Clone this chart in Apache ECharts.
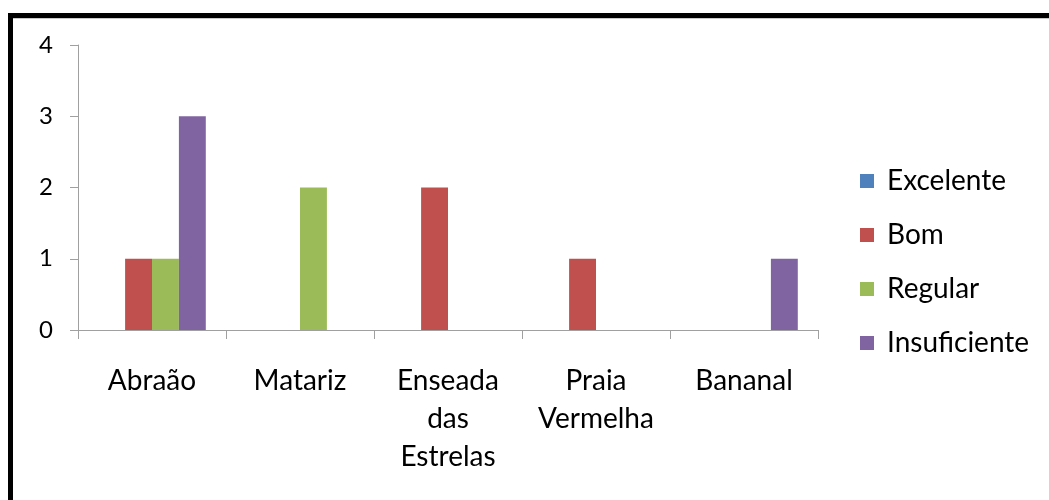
<!DOCTYPE html>
<html>
<head>
<meta charset="utf-8">
<script src="https://cdn.jsdelivr.net/npm/echarts@6/dist/echarts.min.js"></script>
<style>
  html, body { margin: 0; padding: 0; background: #fff; }
  #chart { width: 1049px; height: 500px; }
</style>
</head>
<body>
<div id="chart"></div>
<script>
// Praias e avaliação da qualidade
const categories = ['Abraão', 'Matariz', 'Enseada das Estrelas', 'Praia Vermelha', 'Bananal'];
const excelente = [0, 0, 0, 0, 0];
const bom = [1, 0, 2, 1, 0];
const regular = [1, 2, 0, 0, 0];
const insuficiente = [3, 0, 0, 0, 1];
const yTicks = [0, 1, 2, 3, 4];

const FONT = 'Lato';
const chart = echarts.init(document.getElementById('chart'));

function barSeries(name, data, color) {
  return {
    name: name,
    type: 'bar',
    data: data,
    barGap: '0%',
    barCategoryGap: '27.3%',
    itemStyle: { color: color },
    emphasis: { disabled: true }
  };
}

chart.setOption({
  animation: false,
  backgroundColor: '#fff',
  grid: { left: 78, right: 231, top: 45, bottom: 170, containLabel: false },
  legend: {
    orient: 'vertical',
    left: 855,
    top: 162,
    itemWidth: 14,
    itemHeight: 14,
    itemGap: 26,
    icon: 'rect',
    textStyle: { fontFamily: FONT, fontSize: 28, color: '#000', padding: [0, 0, 0, 8] },
    data: ['Excelente', 'Bom', 'Regular', 'Insuficiente']
  },
  xAxis: {
    type: 'category',
    data: categories,
    axisLine: { lineStyle: { color: '#A0A0A0', width: 1 } },
    axisTick: { show: true, length: 9, lineStyle: { color: '#A0A0A0' } },
    axisLabel: {
      interval: 0,
      hideOverlap: false,
      fontFamily: FONT, fontSize: 28, color: '#000',
      margin: 32, lineHeight: 38,
      formatter: v => v.split(' ').join('\n')
    }
  },
  yAxis: {
    type: 'value',
    min: yTicks[0],
    max: yTicks[yTicks.length - 1],
    interval: 1,
    splitLine: { show: false },
    axisLine: { show: true, lineStyle: { color: '#A0A0A0', width: 1 } },
    axisTick: { show: true, length: 8, lineStyle: { color: '#A0A0A0' } },
    axisLabel: { fontFamily: FONT, fontSize: 24, color: '#000', margin: 25 }
  },
  graphic: [
    { type: 'rect', shape: { x: 10.5, y: 15.5, width: 1200, height: 700 },
      style: { fill: 'none', stroke: '#000', lineWidth: 5 }, silent: true },
    { type: 'line', shape: { x1: 13, y1: 18.5, x2: 1049, y2: 18.5 },
      style: { stroke: '#c8c8c8', lineWidth: 1 }, silent: true }
  ],
  series: [
    barSeries('Excelente', excelente, '#4F81BD'),
    barSeries('Bom', bom, '#C0504D'),
    barSeries('Regular', regular, '#9BBB59'),
    barSeries('Insuficiente', insuficiente, '#8064A2')
  ]
});
</script>
</body>
</html>
